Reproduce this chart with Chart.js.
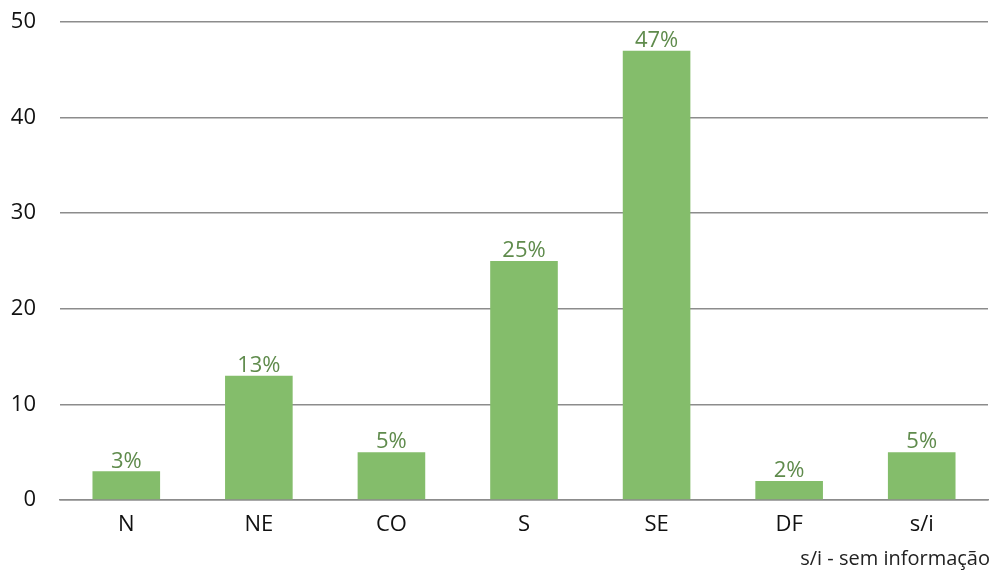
<!DOCTYPE html>
<html>
<head>
<meta charset="utf-8">
<script src="https://cdn.jsdelivr.net/npm/chart.js@4/dist/chart.umd.min.js"></script>
<style>
  html, body { margin: 0; padding: 0; background: #fff; }
  #wrap { position: relative; width: 993px; height: 571px; }
  #barChart { display: block; }
  #note { position: absolute; right: 3px; top: 544px; font: 20px "Open Sans", sans-serif; color: #222; }
</style>
</head>
<body>
<div id="wrap">
  <canvas id="barChart" width="993" height="571"></canvas>
  <div id="note">s/i - sem informação</div>
</div>
<script>
var regions = ["N", "NE", "CO", "S", "SE", "DF", "s/i"];
var values = [3, 13, 5, 25, 47, 2, 5];
var percentLabels = ["3%", "13%", "5%", "25%", "47%", "2%", "5%"];

// draws the % text above each bar
var topLabels = {
    id: 'topLabels',
    afterDatasetsDraw: function (chart) {
        var ctx = chart.ctx;
        var meta = chart.getDatasetMeta(0);
        ctx.save();
        ctx.font = '22px "Open Sans", sans-serif';
        ctx.fillStyle = '#5f8b4c';
        ctx.textAlign = 'center';
        ctx.textBaseline = 'bottom';
        meta.data.forEach(function (bar, i) {
            ctx.fillText(percentLabels[i], bar.x, bar.y + 1);
        });
        ctx.restore();
    }
};

var bar = document.getElementById("barChart").getContext('2d');
var myChart = new Chart(bar, {
    type: 'bar',
    data: {
        labels: regions,
        datasets: [
            {
                data: values,
                backgroundColor: '#84bd6b',
                categoryPercentage: 1,
                barPercentage: 0.51
            }
        ]
    },
    options: {
        responsive: false,
        animation: false,
        layout: { padding: { top: 22, right: 5, left: 0, bottom: 0 } },
        plugins: {
            legend: { display: false },
            tooltip: { enabled: false }
        },
        scales: {
            x: {
                grid: { display: false },
                border: { color: '#8c8c8c', width: 1.5 },
                ticks: { color: '#111', padding: 4, font: { size: 22, family: '"Open Sans", sans-serif' } },
                afterFit: function (axis) { axis.height = 71; axis.paddingLeft = 0; axis.paddingRight = 0; }
            },
            y: {
                min: 0,
                max: 50,
                ticks: { stepSize: 10, color: '#111', padding: 24, font: { size: 22, family: '"Open Sans", sans-serif' } },
                grid: { color: '#8c8c8c', lineWidth: 1.5, drawTicks: false },
                border: { display: false },
                afterFit: function (axis) { axis.width = 60; axis.paddingTop = 0; axis.paddingBottom = 0; }
            }
        }
    },
    plugins: [topLabels]
});
</script>
</body>
</html>
